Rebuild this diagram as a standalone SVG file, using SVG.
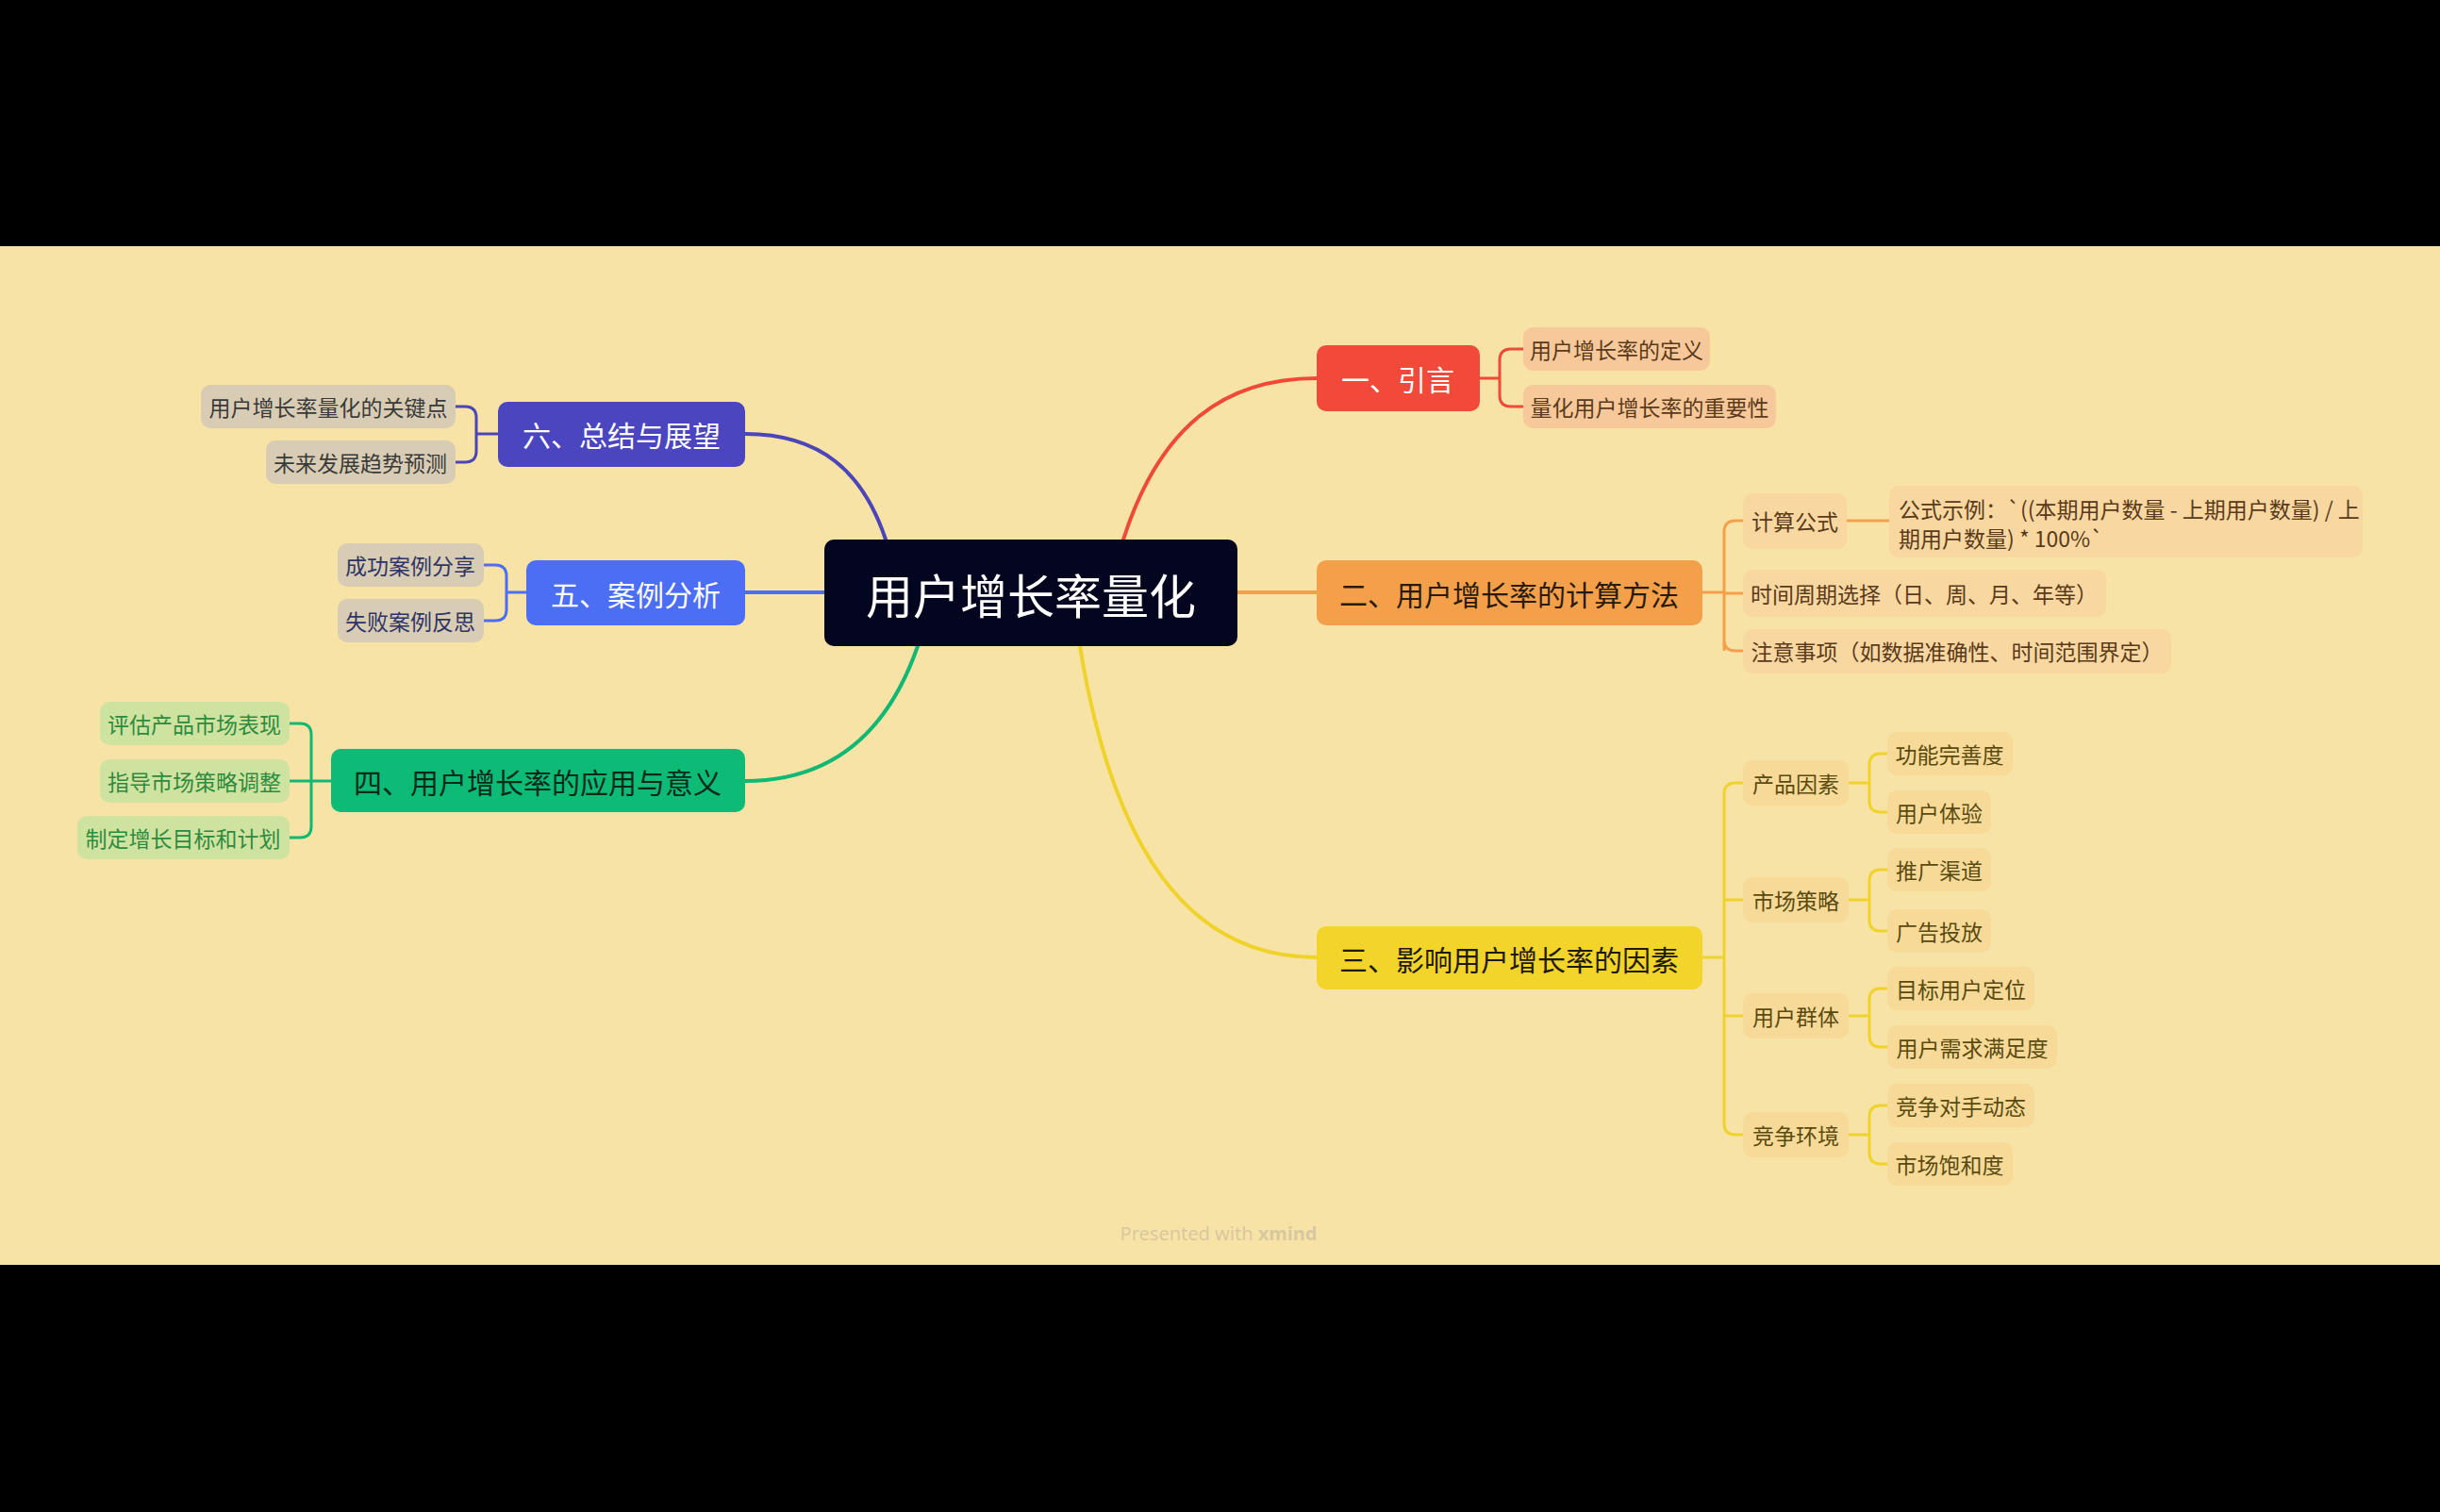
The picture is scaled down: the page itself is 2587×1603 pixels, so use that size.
<svg xmlns="http://www.w3.org/2000/svg" width="2587" height="1603" viewBox="0 0 2587 1603">
<style>
text{font-family:"Noto Sans CJK SC","Noto Sans",sans-serif;dominant-baseline:central;text-anchor:middle}
.m{font-size:30px}
.s{font-size:23px}
.c{fill:none;stroke-width:4;stroke-linecap:round}
.b{fill:none;stroke-width:3}
</style>
<rect width="2587" height="1603" fill="#000"/>
<rect y="261" width="2587" height="1080" fill="#F8E3A6"/>
<g id="connectors">
<path class="c" stroke="#EF4A37" d="M1191,572 C1230,450 1300,401 1396,401"/>
<path class="c" stroke="#F4A04A" d="M1312,628 H1396"/>
<path class="c" stroke="#EFD22A" d="M1145,685 C1180,900 1260,1015 1396,1015"/>
<path class="c" stroke="#10B873" d="M973,685 C940,780 880,828 790,828"/>
<path class="c" stroke="#4B6EF5" d="M790,628 H874"/>
<path class="c" stroke="#4B45B8" d="M939,572 C915,500 870,460 790,460"/>
<g stroke="#EF4A37" class="b"><path d="M1569,401 H1590 V382 Q1590,370 1602,370 H1615 M1590,401 V419 Q1590,431 1602,431 H1615"/></g>
<g stroke="#F4A04A" class="b"><path d="M1805,628 H1828 M1828,690 V564 Q1828,552 1840,552 H1848 M1828,629 H1848 M1828,678 Q1828,690 1840,690 H1848 M1958,552 H2003"/></g>
<g stroke="#EFD22A" class="b"><path d="M1805,1015 H1828 M1828,1191 V842 Q1828,830 1840,830 H1848 M1828,954 H1848 M1828,1077 H1848 M1828,1191 Q1828,1203 1840,1203 H1848"/>
<path d="M1960,830 H1982 M1982,849 V811 Q1982,799 1994,799 H2001 M1982,849 Q1982,861 1994,861 H2001"/>
<path d="M1960,954 H1982 M1982,975 V934 Q1982,922 1994,922 H2001 M1982,975 Q1982,987 1994,987 H2001"/>
<path d="M1960,1077 H1982 M1982,1098 V1060 Q1982,1048 1994,1048 H2001 M1982,1098 Q1982,1110 1994,1110 H2001"/>
<path d="M1960,1203 H1982 M1982,1222 V1184 Q1982,1172 1994,1172 H2001 M1982,1222 Q1982,1234 1994,1234 H2001"/></g>
<g stroke="#10B873" class="b"><path d="M351,828 H307 M330,779 Q330,767 318,767 H307 M330,779 V876 Q330,888 318,888 H307"/></g>
<g stroke="#4B6EF5" class="b"><path d="M558,628 H537 M537,611 Q537,599 525,599 H513 M537,611 V646 Q537,658 525,658 H513"/></g>
<g stroke="#4B45B8" class="b"><path d="M528,460 H505 M505,443 Q505,431 493,431 H483 M505,443 V478 Q505,490 493,490 H483"/></g>
</g>
<g id="center"><rect x="874" y="572" width="438" height="113" rx="10" fill="#03061E"/><text x="1093" y="629" font-size="50" fill="#fff">用户增长率量化</text></g>
<g id="n1"><rect x="1396" y="366" width="173" height="70" rx="10" fill="#F24A3A"/><text class="m" x="1482" y="401" fill="#fff">一、引言</text></g>
<g id="n2"><rect x="1396" y="594" width="409" height="69" rx="10" fill="#F4A04A"/><text class="m" x="1600" y="629" fill="#2a1a08">二、用户增长率的计算方法</text></g>
<g id="n3"><rect x="1396" y="982" width="409" height="67" rx="10" fill="#F2D42A"/><text class="m" x="1600" y="1016" fill="#1f1a05">三、影响用户增长率的因素</text></g>
<g id="n4"><rect x="351" y="794" width="439" height="67" rx="10" fill="#0DBA76"/><text class="m" x="570" y="828" fill="#062a1a">四、用户增长率的应用与意义</text></g>
<g id="n5"><rect x="558" y="594" width="232" height="69" rx="10" fill="#4B6EF5"/><text class="m" x="674" y="629" fill="#fff">五、案例分析</text></g>
<g id="n6"><rect x="528" y="426" width="262" height="69" rx="10" fill="#4B45C0"/><text class="m" x="659" y="460" fill="#fff">六、总结与展望</text></g>
<g id="n1a"><rect x="1615" y="347" width="198" height="46" rx="10" fill="#F7C99A"/><text class="s" x="1714" y="370" fill="#5a3a1a">用户增长率的定义</text></g>
<g id="n1b"><rect x="1615" y="408" width="268" height="46" rx="10" fill="#F7C99A"/><text class="s" x="1749" y="431" fill="#5a3a1a">量化用户增长率的重要性</text></g>
<g id="n2a"><rect x="1848" y="523" width="110" height="59" rx="10" fill="#F8D7A0"/><text class="s" x="1903" y="552" fill="#5a3a1a">计算公式</text></g>
<g id="n2a1"><rect x="2003" y="515" width="502" height="76" rx="10" fill="#F8D7A0"/><text class="s" x="2013" y="539" fill="#5a3a1a" style="text-anchor:start">公式示例：`((本期用户数量 - 上期用户数量) / 上</text><text class="s" x="2013" y="570" fill="#5a3a1a" style="text-anchor:start">期用户数量) * 100%`</text></g>
<g id="n2b"><rect x="1848" y="604" width="385" height="50" rx="10" fill="#F8D7A0"/><text class="s" x="2040" y="629" fill="#5a3a1a">时间周期选择（日、周、月、年等）</text></g>
<g id="n2c"><rect x="1848" y="667" width="454" height="47" rx="10" fill="#F8D7A0"/><text class="s" x="2075" y="690" fill="#5a3a1a">注意事项（如数据准确性、时间范围界定）</text></g>
<g fill="#F7DA98">
<g id="n3a"><rect x="1848" y="806" width="112" height="48" rx="10"/><text class="s" x="1904" y="830" fill="#5a4a10">产品因素</text></g>
<g id="n3b"><rect x="1848" y="930" width="112" height="48" rx="10"/><text class="s" x="1904" y="954" fill="#5a4a10">市场策略</text></g>
<g id="n3c"><rect x="1848" y="1053" width="112" height="48" rx="10"/><text class="s" x="1904" y="1077" fill="#5a4a10">用户群体</text></g>
<g id="n3d"><rect x="1848" y="1179" width="112" height="48" rx="10"/><text class="s" x="1904" y="1203" fill="#5a4a10">竞争环境</text></g>
<g id="n3a1"><rect x="2001" y="776" width="133" height="46" rx="10"/><text class="s" x="2067" y="799" fill="#5a4a10">功能完善度</text></g>
<g id="n3a2"><rect x="2001" y="838" width="110" height="46" rx="10"/><text class="s" x="2056" y="861" fill="#5a4a10">用户体验</text></g>
<g id="n3b1"><rect x="2001" y="899" width="110" height="46" rx="10"/><text class="s" x="2056" y="922" fill="#5a4a10">推广渠道</text></g>
<g id="n3b2"><rect x="2001" y="964" width="110" height="46" rx="10"/><text class="s" x="2056" y="987" fill="#5a4a10">广告投放</text></g>
<g id="n3c1"><rect x="2001" y="1025" width="156" height="46" rx="10"/><text class="s" x="2079" y="1048" fill="#5a4a10">目标用户定位</text></g>
<g id="n3c2"><rect x="2001" y="1087" width="180" height="46" rx="10"/><text class="s" x="2091" y="1110" fill="#5a4a10">用户需求满足度</text></g>
<g id="n3d1"><rect x="2001" y="1149" width="156" height="46" rx="10"/><text class="s" x="2079" y="1172" fill="#5a4a10">竞争对手动态</text></g>
<g id="n3d2"><rect x="2001" y="1211" width="133" height="46" rx="10"/><text class="s" x="2067" y="1234" fill="#5a4a10">市场饱和度</text></g>
</g>
<g fill="#CFE3A0">
<g id="n4a"><rect x="106" y="744" width="201" height="46" rx="10"/><text class="s" x="206" y="767" fill="#2E8B3E">评估产品市场表现</text></g>
<g id="n4b"><rect x="106" y="805" width="201" height="46" rx="10"/><text class="s" x="206" y="828" fill="#2E8B3E">指导市场策略调整</text></g>
<g id="n4c"><rect x="82" y="865" width="225" height="46" rx="10"/><text class="s" x="194" y="888" fill="#2E8B3E">制定增长目标和计划</text></g>
</g>
<g fill="#D8CDB4">
<g id="n5a"><rect x="358" y="576" width="155" height="46" rx="10"/><text class="s" x="435" y="599" fill="#2f3466">成功案例分享</text></g>
<g id="n5b"><rect x="358" y="635" width="155" height="46" rx="10"/><text class="s" x="435" y="658" fill="#2f3466">失败案例反思</text></g>
<g id="n6a"><rect x="213" y="408" width="270" height="46" rx="10"/><text class="s" x="348" y="431" fill="#3a3a3a">用户增长率量化的关键点</text></g>
<g id="n6b"><rect x="282" y="467" width="201" height="46" rx="10"/><text class="s" x="382" y="490" fill="#3a3a3a">未来发展趋势预测</text></g>
</g>
<text x="1292" y="1307" font-size="20" fill="#D8C8A0" style="font-family:'Noto Sans',sans-serif">Presented with <tspan font-weight="bold">xmind</tspan></text>
</svg>
